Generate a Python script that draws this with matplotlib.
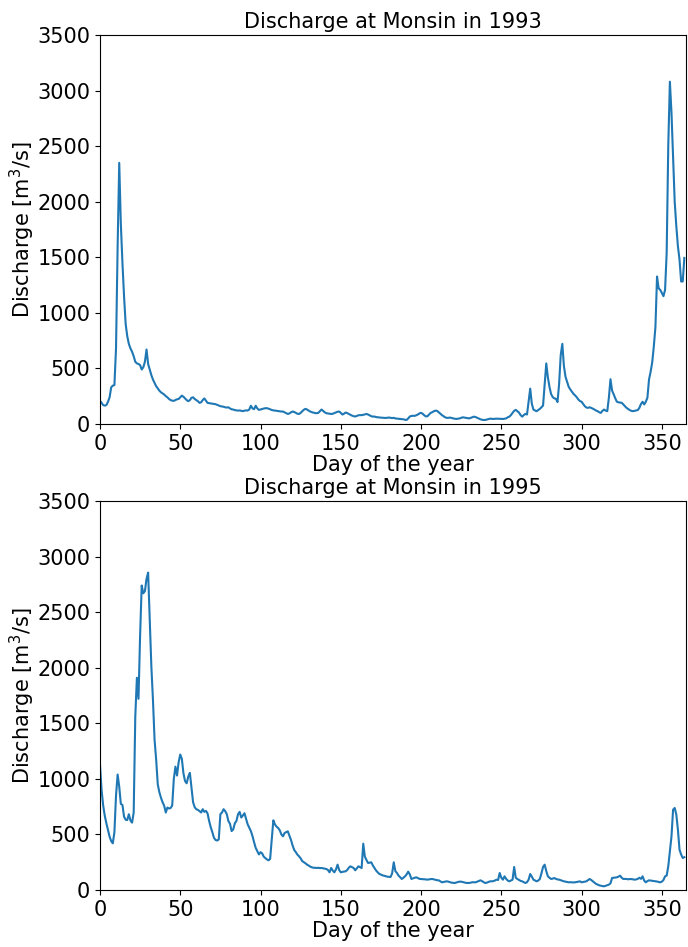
import numpy as np
import matplotlib
matplotlib.use("Agg")
import matplotlib.pyplot as plt

# daily discharge [m3/s]
q1993 = [
    210, 190, 170, 165, 170, 200, 240, 330, 345, 350,
    680, 1600, 2350, 1800, 1450, 1150, 900, 790, 720, 680,
    650, 610, 560, 545, 540, 530, 490, 510, 560, 670,
    540, 490, 440, 400, 370, 340, 320, 300, 285, 275,
    265, 250, 240, 225, 215, 210, 208, 215, 222, 225,
    240, 255, 245, 230, 215, 205, 215, 235, 240, 225,
    215, 205, 190, 195, 215, 230, 210, 190, 188, 185,
    182, 180, 178, 172, 165, 160, 158, 155, 150, 148,
    150, 140, 132, 130, 125, 122, 120, 122, 118, 115,
    120, 122, 121, 130, 164, 140, 133, 164, 140, 127,
    130, 135, 138, 142, 142, 138, 132, 126, 122, 121,
    118, 116, 114, 112, 112, 105, 98, 90, 95, 105,
    112, 108, 100, 92, 90, 100, 115, 128, 136, 130,
    120, 112, 106, 102, 98, 97, 100, 115, 130, 118,
    105, 97, 95, 93, 90, 92, 98, 105, 110, 112,
    100, 85, 92, 103, 98, 90, 82, 75, 70, 67,
    72, 78, 80, 79, 82, 86, 90, 85, 78, 70,
    66, 67, 62, 60, 58, 57, 56, 55, 54, 56,
    58, 55, 53, 55, 50, 48, 46, 45, 44, 42,
    38, 36, 50, 67, 72, 74, 73, 78, 85, 95,
    100, 92, 78, 68, 70, 85, 100, 106, 115, 120,
    118, 105, 92, 80, 70, 60, 55, 55, 58, 54,
    50, 48, 45, 47, 50, 55, 60, 58, 55, 52,
    50, 55, 60, 66, 62, 55, 48, 42, 38, 36,
    36, 40, 45, 48, 46, 45, 47, 48, 47, 46,
    45, 45, 48, 50, 60, 66, 80, 100, 118, 127,
    115, 103, 80, 66, 80, 91, 85, 200, 318, 182,
    130, 121, 115, 125, 136, 150, 166, 350, 545, 420,
    333, 270, 242, 230, 227, 197, 360, 620, 721, 520,
    424, 380, 333, 310, 290, 270, 257, 240, 220, 206,
    200, 180, 160, 148, 145, 150, 145, 138, 130, 121,
    115, 105, 100, 118, 130, 120, 115, 236, 403, 300,
    267, 230, 200, 195, 192, 191, 175, 160, 145, 135,
    125, 118, 115, 118, 121, 125, 145, 180, 200, 176,
    200, 236, 400, 470, 555, 700, 873, 1327, 1221, 1206,
    1180, 1150, 1206, 1540, 2509, 3080, 2800, 2388, 2000, 1782,
    1600, 1479, 1282, 1282, 1494,
]

q1995 = [
    1130, 900, 760, 667, 600, 540, 480, 440, 420, 520,
    850, 1039, 930, 775, 765, 660, 632, 630, 682, 625,
    606, 697, 1560, 1910, 1720, 2290, 2740, 2670, 2690, 2800,
    2856, 2435, 2015, 1714, 1354, 1174, 950, 880, 830, 790,
    758, 697, 742, 733, 738, 760, 1000, 1110, 1030, 1150,
    1219, 1180, 1050, 980, 960, 1020, 1054, 920, 790, 745,
    727, 721, 710, 697, 727, 703, 712, 690, 621, 565,
    520, 470, 450, 445, 455, 682, 697, 727, 710, 682,
    620, 595, 530, 545, 600, 621, 682, 703, 652, 670,
    691, 640, 591, 561, 530, 485, 430, 379, 350, 320,
    340, 330, 300, 288, 275, 267, 280, 450, 627, 590,
    570, 558, 537, 500, 483, 513, 520, 528, 490, 450,
    400, 360, 340, 318, 303, 285, 260, 250, 240, 228,
    220, 210, 204, 200, 200, 198, 200, 197, 198, 195,
    192, 189, 180, 159, 198, 175, 159, 185, 228, 180,
    159, 163, 166, 168, 180, 200, 213, 205, 198, 177,
    195, 213, 205, 198, 417, 300, 270, 243, 246, 249,
    220, 198, 175, 159, 145, 138, 132, 128, 123, 120,
    118, 117, 150, 249, 170, 153, 129, 115, 99, 110,
    123, 140, 165, 140, 99, 105, 110, 114, 108, 100,
    99, 99, 96, 95, 93, 96, 98, 99, 95, 90,
    88, 87, 78, 69, 72, 75, 78, 75, 70, 66,
    64, 63, 68, 72, 75, 75, 72, 68, 64, 63,
    63, 66, 70, 69, 69, 75, 82, 87, 80, 70,
    63, 66, 72, 78, 78, 80, 85, 93, 90, 153,
    110, 93, 123, 100, 85, 78, 85, 93, 207, 110,
    99, 90, 82, 78, 70, 63, 70, 93, 144, 120,
    93, 85, 78, 85, 99, 150, 207, 228, 170, 123,
    110, 99, 102, 108, 100, 95, 93, 88, 82, 78,
    75, 72, 69, 70, 69, 68, 69, 72, 75, 78,
    69, 72, 75, 78, 88, 99, 90, 78, 65, 55,
    48, 42, 38, 35, 33, 38, 44, 48, 60, 108,
    110, 112, 114, 120, 129, 110, 99, 100, 99, 96,
    99, 98, 95, 93, 95, 100, 110, 100, 123, 85,
    69, 80, 87, 85, 84, 82, 80, 76, 72, 69,
    75, 90, 123, 130, 213, 350, 483, 723, 738, 680,
    543, 363, 320, 288, 295,
]

years = [1993, 1995]
series = [q1993, q1995]

plt.rcParams['font.size'] = 15

fig = plt.figure(figsize=(6.88, 9.47), dpi=100)
boxes = [[0.1453, 0.5523, 0.8517, 0.4107],
         [0.1453, 0.0602, 0.8517, 0.4107]]

for box, year, q in zip(boxes, years, series):
    ax = fig.add_axes(box)
    days = np.arange(len(q))
    ax.plot(days, q, color='#1f77b4', linewidth=1.5)
    ax.set_xlim(0, 365)
    ax.set_ylim(0, 3500)
    ax.set_xticks(range(0, 351, 50))
    ax.set_yticks(range(0, 3501, 500))
    ax.set_title('Discharge at Monsin in %d' % year, fontsize=15, pad=5)
    ax.set_xlabel('Day of the year', labelpad=1)
    ax.set_ylabel('Discharge [m$^3$/s]', labelpad=0)

fig.savefig('out.png', dpi=100)
